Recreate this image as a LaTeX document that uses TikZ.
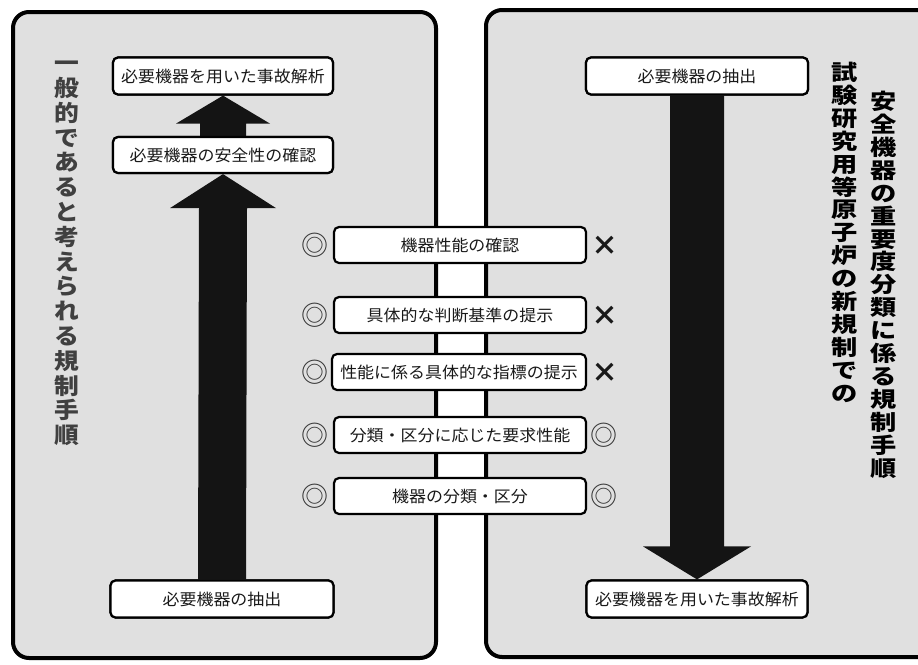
\documentclass[tikz,border=0pt]{standalone}
\usepackage{fontspec}
\usetikzlibrary{calc}
\newfontfamily\cjk{Noto Sans CJK JP}[FakeStretch=1.06]
\newfontfamily\cjktl{Noto Sans CJK JP}[FakeStretch=1.1]
\newfontfamily\cjktr{Noto Sans CJK JP}[FakeStretch=1.22]
\newfontfamily\cjkplain{Noto Sans CJK JP}
\begin{document}
\begin{tikzpicture}[x=1pt,y=-1pt,
  panel/.style={draw=black, line width=4pt, fill=black!12, rounded corners=16pt},
  stepbox/.style={draw=black, line width=2.2pt, fill=white, rounded corners=5pt,
    minimum height=37pt, inner sep=0pt, text=black!90,
    font=\cjk\fontsize{16}{17}\selectfont},
  bigarrow/.style={fill=black!92},
  symb/.style={inner sep=0pt, text=black!80, font=\cjkplain\fontsize{27}{27}\selectfont},
  cross/.style={inner sep=0pt, text=black!90, font=\cjkplain\bfseries\fontsize{27}{27}\selectfont},
  titleL/.style={inner sep=0pt, anchor=north, align=center, text=black!75,
    font=\cjktl\bfseries\fontsize{22.5}{24.8}\selectfont},
  titleR/.style={inner sep=0pt, anchor=north, align=center, text=black,
    font=\cjktr\bfseries\fontsize{21.5}{22.9}\selectfont}
]
\useasboundingbox (0,0) rectangle (918,664);
\fill[white] (0,0) rectangle (918,664);
\begin{scope}
  \clip (0,0) rectangle (918,664);
  \draw[panel] (13,12) rectangle (436,658);
  \draw[panel] (486,10) rectangle (960,657);
\end{scope}

% left column boxes
\node[stepbox, minimum width=220pt] (LA) at (223,76) {必要機器を用いた事故解析};
\node[stepbox, minimum width=220pt, minimum height=36pt] (LB) at (223,155) {必要機器の安全性の確認};
\node[stepbox, minimum width=223pt] (LC) at (222,599) {必要機器の抽出};

% right column boxes
\node[stepbox, minimum width=222pt] (RA) at (697,76) {必要機器の抽出};
\node[stepbox, minimum width=221pt] (RB) at (697,599) {必要機器を用いた事故解析};

% arrows (left: upward)
\fill[bigarrow] ($(LB.north)+(-23,0)$) -- ($(LA.south)+(-23,28)$) -- ($(LA.south)+(-47,28)$)
  -- (LA.south) -- ($(LA.south)+(47,28)$) -- ($(LA.south)+(23,28)$) -- ($(LB.north)+(23,0)$) -- cycle;
\fill[bigarrow] ($(LC.north)+(-24,0)$) -- ($(LB.south)+(-24,34)$) -- ($(LB.south)+(-53,34)$)
  -- (LB.south) -- ($(LB.south)+(53,34)$) -- ($(LB.south)+(24,34)$) -- ($(LC.north)+(24,0)$) -- cycle;
% right: downward
\fill[bigarrow] ($(RA.south)+(-27,0)$) -- ($(RB.north)+(-27,-33)$) -- ($(RB.north)+(-54,-33)$)
  -- (RB.north) -- ($(RB.north)+(54,-33)$) -- ($(RB.north)+(27,-33)$) -- ($(RA.south)+(27,0)$) -- cycle;

% redraw boxes on top of arrows
\node[stepbox, minimum width=220pt] at (LA) {必要機器を用いた事故解析};
\node[stepbox, minimum width=220pt, minimum height=36pt] at (LB) {必要機器の安全性の確認};
\node[stepbox, minimum width=223pt] at (LC) {必要機器の抽出};
\node[stepbox, minimum width=222pt] at (RA) {必要機器の抽出};
\node[stepbox, minimum width=221pt] at (RB) {必要機器を用いた事故解析};

% middle comparison boxes
\node[stepbox, minimum width=252pt, minimum height=36pt] (M1) at (460,245) {機器性能の確認};
\node[stepbox, minimum width=252pt, minimum height=36pt] (M2) at (460,315) {具体的な判断基準の提示};
\node[stepbox, minimum width=254pt, minimum height=36pt] (M3) at (459,372) {性能に係る具体的な指標の提示};
\node[stepbox, minimum width=252pt, minimum height=36pt] (M4) at (460,435) {分類・区分に応じた要求性能};
\node[stepbox, minimum width=252pt, minimum height=36pt] (M5) at (460,496) {機器の分類・区分};

% marks
\node[symb] (S1L) at (315,245) {◎};
\node[symb] (S2L) at (315,315) {◎};
\node[symb] (S3L) at (315,372) {◎};
\node[symb] (S4L) at (315,435) {◎};
\node[symb] (S5L) at (315,496) {◎};
\node[cross] (S1R) at (605,246) {×};
\node[cross] (S2R) at (605,316) {×};
\node[cross] (S3R) at (605,373) {×};
\node[symb] (S4R) at (604,435) {◎};
\node[symb] (S5R) at (604,496) {◎};

% titles
\node[titleL] (TL) at (67,61) {一\\般\\的\\で\\あ\\る\\と\\考\\え\\ら\\れ\\る\\規\\制\\手\\順};
\node[titleR] (TR1) at (884,91) {安\\全\\機\\器\\の\\重\\要\\度\\分\\類\\に\\係\\る\\規\\制\\手\\順};
\node[titleR] (TR2) at (845,62) {試\\験\\研\\究\\用\\等\\原\\子\\炉\\の\\新\\規\\制\\で\\の};
\end{tikzpicture}
\end{document}
